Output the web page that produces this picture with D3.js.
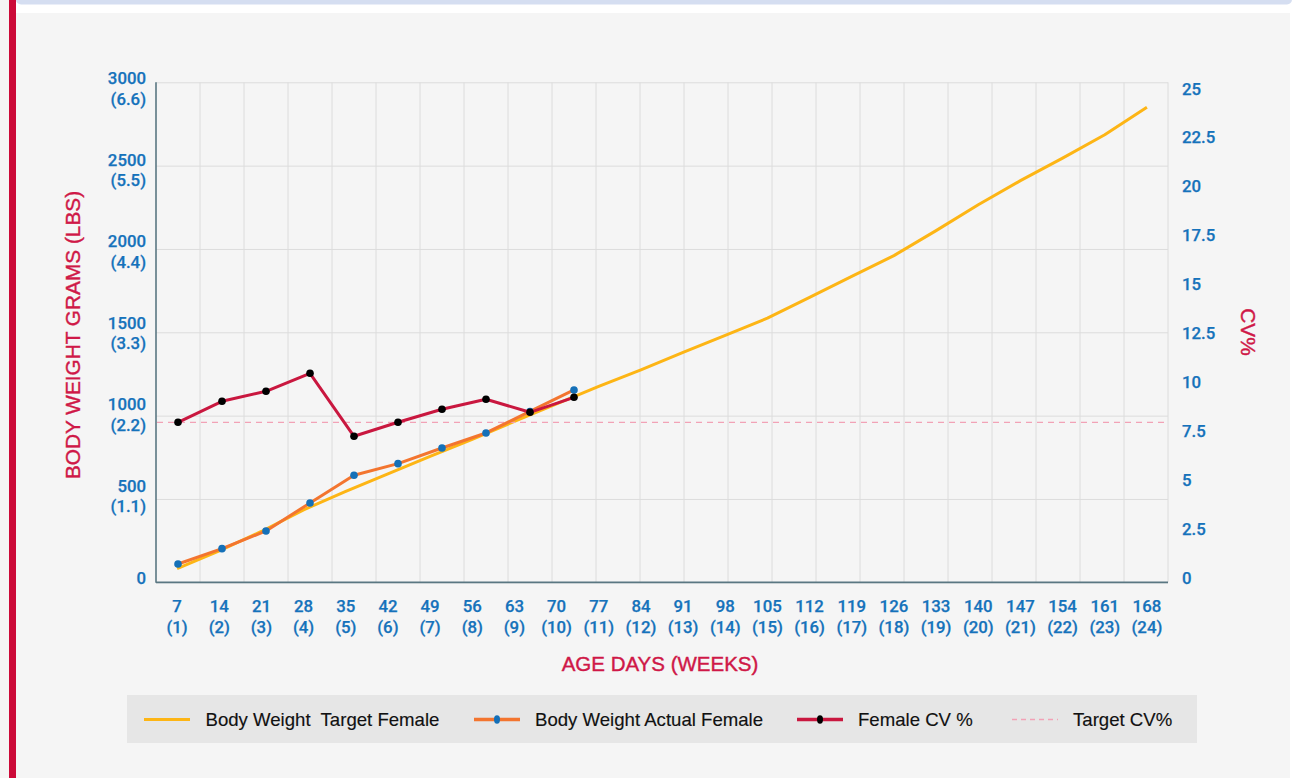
<!DOCTYPE html>
<html>
<head>
<meta charset="utf-8">
<script src="https://cdn.jsdelivr.net/npm/d3@7"></script>
<style>
  html, body { margin: 0; padding: 0; background: #ffffff; }
  svg { display: block; }
</style>
</head>
<body>
<div id="chart"></div>
<script>
// ---- data -------------------------------------------------------------
const days  = [7, 14, 21, 28, 35, 42, 49, 56, 63, 70, 77, 84, 91, 98, 105, 112, 119, 126, 133, 140, 147, 154, 161, 168];
const weeks = [1, 2, 3, 4, 5, 6, 7, 8, 9, 10, 11, 12, 13, 14, 15, 16, 17, 18, 19, 20, 21, 22, 23, 24];

// target body weight (g) for each week
const targetWeight = [82, 188, 305, 435, 545, 650, 755, 858, 965, 1070, 1175, 1275,
                      1380, 1482, 1585, 1710, 1835, 1960, 2110, 2265, 2410, 2545, 2685, 2850];
// measured flock weight (g), weeks 1-10
const actualWeight = [110, 202, 308, 476, 642, 712, 806, 896, 1025, 1154];
// measured uniformity CV %, weeks 1-10
const femaleCV = [8.0, 9.05, 9.55, 10.45, 7.3, 8.0, 8.65, 9.15, 8.5, 9.25];
const targetCV = 8;

const weightTicks = [0, 500, 1000, 1500, 2000, 2500, 3000];
const lbsTicks    = ["", "(1.1)", "(2.2)", "(3.3)", "(4.4)", "(5.5)", "(6.6)"];
const cvTicks     = [0, 2.5, 5, 7.5, 10, 12.5, 15, 17.5, 20, 22.5, 25];
const gridColumns = d3.range(1, 24);

const legendItems = ["Body Weight  Target Female", "Body Weight Actual Female", "Female CV %", "Target CV%"];

// ---- layout -----------------------------------------------------------
const W = 1295, H = 778;
const plot = { left: 156, right: 1168, top: 82.3, bottom: 582.3 };

const C = {
  tick: "#1572bb",
  title: "#cf1847",
  grid: "#dcdcdc",
  axis: "#5a7782",
  target: "#fdb515",
  actual: "#f3752f",
  actualDot: "#1470b8",
  cv: "#c9173f",
  cvDot: "#000000",
  targetCV: "#f2a2b6"
};

const svg = d3.select("#chart").append("svg")
  .attr("width", W).attr("height", H)
  .attr("viewBox", `0 0 ${W} ${H}`);

// page frame
svg.append("rect").attr("x", 0).attr("y", 0).attr("width", W).attr("height", H).attr("fill", "#ffffff");
svg.append("rect").attr("x", 0).attr("y", 13).attr("width", 1290).attr("height", H - 13).attr("fill", "#f5f5f5");
svg.append("rect").attr("x", 0).attr("y", 0).attr("width", 9).attr("height", H).attr("fill", "#f5f5f5");
svg.append("rect").attr("x", 16).attr("y", -6).attr("width", 1276).attr("height", 10.5).attr("rx", 5).attr("fill", "#d5def1");
svg.append("rect").attr("x", 9).attr("y", 0).attr("width", 7).attr("height", H).attr("fill", "#cc0a38");

// ---- scales -----------------------------------------------------------
const xWeek = d3.scaleBand().domain(weeks).range([plot.left, plot.right]);
const xCol  = d3.scaleBand().domain(gridColumns).range([plot.left, plot.right]);
const yWeight = d3.scaleLinear().domain([0, 3000]).range([plot.bottom, plot.top]);
const yCV     = d3.scaleLinear().domain([0, 25]).range([plot.bottom, plot.top]);
// tick label placement
const yWeightLabel = d3.scaleLinear().domain([0, 3000]).range([577, 87.5]);
const yCVLabel     = d3.scaleLinear().domain([0, 25]).range([577, 88]);

const wx = w => xWeek(w) + xWeek.bandwidth() / 2;
const cx = i => xCol(gridColumns[i]) + xCol.bandwidth() / 2;

// ---- grid -------------------------------------------------------------
const grid = svg.append("g");
grid.append("g")
  .attr("transform", `translate(${plot.left},0)`)
  .call(d3.axisLeft(yWeight).tickValues(weightTicks).tickSize(-(plot.right - plot.left)).tickFormat(""))
  .call(g => g.select(".domain").remove())
  .call(g => g.selectAll("line").attr("stroke", C.grid).attr("stroke-width", 1));
grid.selectAll("line.v").data(gridColumns).join("line")
  .attr("class", "v")
  .attr("x1", d => xCol(d) + xCol.bandwidth()).attr("x2", d => xCol(d) + xCol.bandwidth())
  .attr("y1", plot.top).attr("y2", plot.bottom)
  .attr("stroke", C.grid).attr("stroke-width", 1);

// axis lines
svg.append("line").attr("x1", plot.left).attr("x2", plot.left).attr("y1", plot.top).attr("y2", plot.bottom + 0.5)
  .attr("stroke", C.axis).attr("stroke-width", 1.6);
svg.append("line").attr("x1", plot.left).attr("x2", plot.right).attr("y1", plot.bottom).attr("y2", plot.bottom)
  .attr("stroke", C.axis).attr("stroke-width", 1.8);

// ---- tick labels ------------------------------------------------------
const tickFont = "Roboto, 'Liberation Sans', Arial, sans-serif";
const tickSize = 16.8;

const leftAxis = svg.append("g")
  .attr("transform", "translate(146,0)")
  .call(d3.axisLeft(yWeightLabel).tickValues(weightTicks).tickSize(0).tickPadding(0))
  .call(g => g.select(".domain").remove());
leftAxis.selectAll(".tick text")
  .attr("fill", C.tick).attr("font-family", tickFont).attr("font-weight", 500).attr("font-size", tickSize)
  .attr("stroke", C.tick).attr("stroke-width", 0.25)
  .attr("text-anchor", "end").attr("dy", null)
  .text(null)
  .each(function (d, i) {
    const t = d3.select(this);
    if (lbsTicks[i]) {
      t.append("tspan").attr("x", 0).attr("y", -10).attr("dominant-baseline", "central").text(d);
      t.append("tspan").attr("x", 0).attr("y", 10.5).attr("dominant-baseline", "central").text(lbsTicks[i]);
    } else {
      t.append("tspan").attr("x", 0).attr("y", 0).attr("dominant-baseline", "central").text(d);
    }
  });

const rightAxis = svg.append("g")
  .attr("transform", "translate(1182,0)")
  .call(d3.axisRight(yCVLabel).tickValues(cvTicks).tickSize(0).tickPadding(0).tickFormat(d3.format("~g")))
  .call(g => g.select(".domain").remove());
rightAxis.selectAll(".tick text")
  .attr("fill", C.tick).attr("font-family", tickFont).attr("font-weight", 500).attr("font-size", tickSize)
  .attr("stroke", C.tick).attr("stroke-width", 0.25)
  .attr("x", 0).attr("dy", null).attr("dominant-baseline", "central");

const bottomAxis = svg.append("g")
  .attr("transform", "translate(0,606)")
  .call(d3.axisBottom(xWeek).tickValues(weeks).tickSize(0).tickPadding(0))
  .call(g => g.select(".domain").remove());
bottomAxis.selectAll(".tick text")
  .attr("fill", C.tick).attr("font-family", tickFont).attr("font-weight", 500).attr("font-size", tickSize)
  .attr("stroke", C.tick).attr("stroke-width", 0.25)
  .attr("dy", null).attr("y", null)
  .text(null)
  .each(function (w, i) {
    const t = d3.select(this);
    t.append("tspan").attr("x", 0).attr("y", 0).attr("dominant-baseline", "central").text(days[i]);
    t.append("tspan").attr("x", 0).attr("y", 21).attr("dominant-baseline", "central").text(`(${w})`);
  });

// ---- axis titles ------------------------------------------------------
const titleFont = "'Liberation Sans', Arial, Helvetica, sans-serif";
svg.append("text")
  .attr("transform", "translate(72,335) rotate(-90)")
  .attr("text-anchor", "middle").attr("dominant-baseline", "central")
  .attr("font-family", titleFont).attr("font-size", 20.8).attr("fill", C.title)
  .attr("stroke", C.title).attr("stroke-width", 0.4)
  .text("BODY WEIGHT GRAMS (LBS)");
svg.append("text")
  .attr("transform", "translate(1248,332) rotate(90)")
  .attr("text-anchor", "middle").attr("dominant-baseline", "central")
  .attr("font-family", titleFont).attr("font-size", 20.8).attr("fill", C.title)
  .attr("stroke", C.title).attr("stroke-width", 0.4)
  .text("CV%");
svg.append("text")
  .attr("x", 660).attr("y", 663)
  .attr("text-anchor", "middle").attr("dominant-baseline", "central")
  .attr("font-family", titleFont).attr("font-size", 20.5).attr("fill", C.title)
  .attr("stroke", C.title).attr("stroke-width", 0.4)
  .text("AGE DAYS (WEEKS)");

// ---- series -----------------------------------------------------------
const series = svg.append("g");

// target weight curve
series.append("path")
  .datum(targetWeight)
  .attr("fill", "none").attr("stroke", C.target).attr("stroke-width", 3).attr("stroke-linejoin", "round")
  .attr("d", d3.line().x((d, i) => wx(weeks[i])).y(d => yWeight(d)));

// target CV reference line
series.append("line")
  .attr("x1", plot.left + 1).attr("x2", plot.right)
  .attr("y1", yCV(targetCV)).attr("y2", yCV(targetCV))
  .attr("stroke", C.targetCV).attr("stroke-width", 1.3).attr("stroke-dasharray", "6,5");

// actual weight
series.append("path")
  .datum(actualWeight)
  .attr("fill", "none").attr("stroke", C.actual).attr("stroke-width", 3).attr("stroke-linejoin", "round")
  .attr("d", d3.line().x((d, i) => cx(i)).y(d => yWeight(d)));
series.selectAll("circle.actual").data(actualWeight).join("circle")
  .attr("class", "actual")
  .attr("cx", (d, i) => cx(i)).attr("cy", d => yWeight(d)).attr("r", 3.8)
  .attr("fill", C.actualDot);

// CV %
series.append("path")
  .datum(femaleCV)
  .attr("fill", "none").attr("stroke", C.cv).attr("stroke-width", 3).attr("stroke-linejoin", "round")
  .attr("d", d3.line().x((d, i) => cx(i)).y(d => yCV(d)));
series.selectAll("circle.cv").data(femaleCV).join("circle")
  .attr("class", "cv")
  .attr("cx", (d, i) => cx(i)).attr("cy", d => yCV(d)).attr("r", 3.8)
  .attr("fill", C.cvDot);

// ---- legend -----------------------------------------------------------
const legend = svg.append("g");
legend.append("rect").attr("x", 127).attr("y", 695).attr("width", 1070).attr("height", 48).attr("fill", "#e6e6e6");

const legendX = [144, 474, 797, 1012];
const legendStyle = [
  { stroke: C.target, width: 3, dash: null, dot: null },
  { stroke: C.actual, width: 3.5, dash: null, dot: C.actualDot },
  { stroke: C.cv, width: 3.5, dash: null, dot: C.cvDot },
  { stroke: C.targetCV, width: 1.3, dash: "5,4", dot: null }
];
const items = legend.selectAll("g.item").data(legendItems).join("g")
  .attr("class", "item")
  .attr("transform", (d, i) => `translate(${legendX[i]},719.5)`);
items.append("line")
  .attr("x1", 0).attr("x2", 46).attr("y1", 0).attr("y2", 0)
  .attr("stroke", (d, i) => legendStyle[i].stroke)
  .attr("stroke-width", (d, i) => legendStyle[i].width)
  .attr("stroke-dasharray", (d, i) => legendStyle[i].dash);
items.filter((d, i) => legendStyle[i].dot)
  .append("ellipse")
  .attr("cx", 23).attr("cy", 0).attr("rx", 3).attr("ry", 4.2)
  .attr("fill", (d) => legendStyle[legendItems.indexOf(d)].dot);
items.append("text")
  .attr("x", (d, i) => i === 0 ? 61.5 : 61)
  .attr("y", 0).attr("dominant-baseline", "central")
  .attr("font-family", titleFont).attr("font-size", 18.6).attr("fill", "#111111")
  .attr("stroke", "#111111").attr("stroke-width", 0.15)
  .attr("xml:space", "preserve")
  .style("white-space", "pre")
  .text(d => d);
</script>
</body>
</html>
